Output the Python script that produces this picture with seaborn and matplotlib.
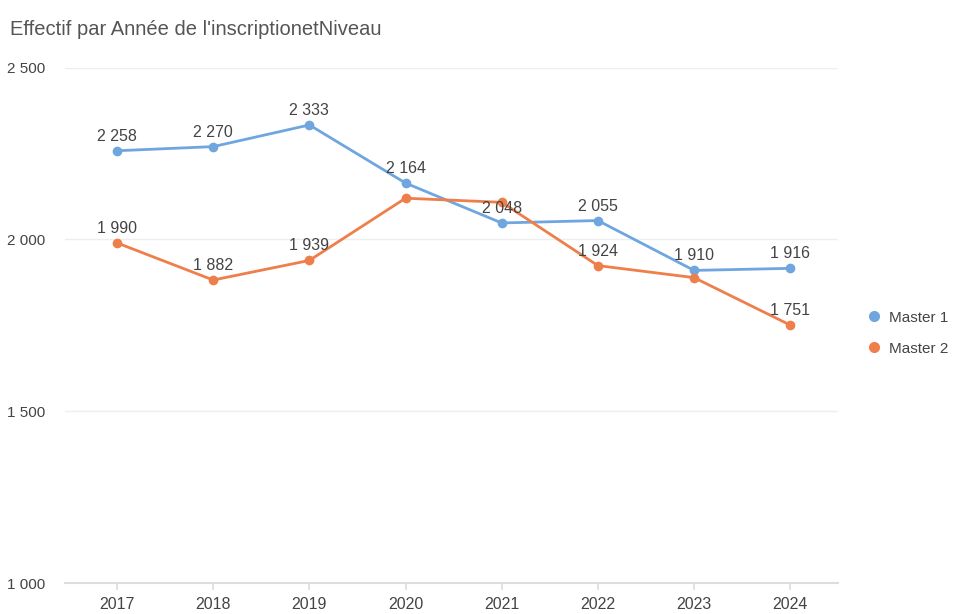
import matplotlib.pyplot as plt
import pandas as pd
import seaborn as sns

annees = ["2017", "2018", "2019", "2020", "2021", "2022", "2023", "2024"]
master1 = [2258, 2270, 2333, 2164, 2048, 2055, 1910, 1916]
master2 = [1990, 1882, 1939, 2120, 2108, 1924, 1889, 1751]
# étiquettes visibles sur le graphique (None = pas d'étiquette)
labels_m1 = [2258, 2270, 2333, 2164, 2048, 2055, 1910, 1916]
labels_m2 = [1990, 1882, 1939, None, None, 1924, None, 1751]

sns.set_theme(style="white")
plt.rcParams["font.family"] = ["Liberation Sans Narrow", "Liberation Sans", "DejaVu Sans"]

df = pd.DataFrame({
    "Annee": annees * 2,
    "Effectif": master1 + master2,
    "Niveau": ["Master 1"] * 8 + ["Master 2"] * 8,
})
palette = {"Master 1": "#6FA6E0", "Master 2": "#EF7F4A"}

fig = plt.figure(figsize=(9.57, 6.14), dpi=100)
ax = fig.add_axes([0.068, 0.05, 0.808, 0.84])

sns.lineplot(data=df, x="Annee", y="Effectif", hue="Niveau", palette=palette,
             marker="o", markersize=7, markeredgewidth=0, linewidth=2, ax=ax, sort=False)

def fmt(v):
    return f"{v:,}".replace(",", " ")

# étiquettes de valeurs au-dessus des points
for serie, labels in [(master1, labels_m1), (master2, labels_m2)]:
    for i, v in enumerate(labels):
        if v is not None:
            ax.annotate(fmt(v), (i, serie[i]), xytext=(0, 5), textcoords="offset points",
                        ha="center", va="bottom", fontsize=11.5, color="#444444")

ax.set_ylim(1000, 2500)
ax.set_xlim(-0.54, 7.5)
ax.set_yticks([1000, 1500, 2000, 2500])
ax.set_yticklabels([fmt(v) for v in [1000, 1500, 2000, 2500]])
ax.grid(axis="y", color="#EEEEEE", linewidth=1)
for s in ["top", "right", "left"]:
    ax.spines[s].set_visible(False)
ax.spines["bottom"].set_color("#DDDDDD")
ax.spines["bottom"].set_linewidth(1.5)
ax.tick_params(axis="x", bottom=True, length=5, color="#DDDDDD", labelsize=11.5, labelcolor="#444444", pad=5)
ax.tick_params(axis="y", left=False, labelsize=11, labelcolor="#444444", pad=8)
ax.set_xlabel("")
ax.set_ylabel("")

leg = ax.legend(loc="center left", bbox_to_anchor=(1.02, 0.485), frameon=False,
                fontsize=11, handlelength=0.8, handletextpad=0.6, labelspacing=1.1)
for h in leg.legend_handles:
    h.set_linestyle("")
    h.set_marker("o")
    h.set_markersize(8)
for t in leg.get_texts():
    t.set_color("#444444")

fig.text(0.010, 0.952, "Effectif par Année de l'inscriptionetNiveau", fontsize=14.5, color="#555555",
         ha="left", va="center")

fig.savefig("out.png", dpi=100)
